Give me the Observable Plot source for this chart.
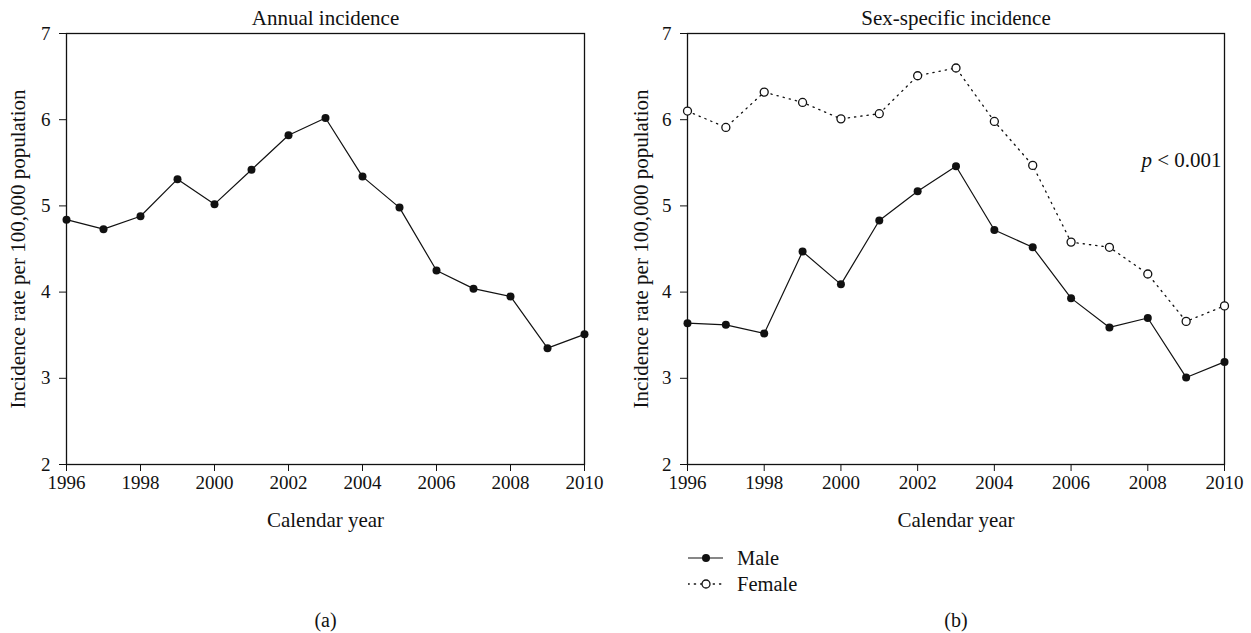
<!DOCTYPE html>
<html>
<head>
<meta charset="utf-8">
<script src="https://cdn.jsdelivr.net/npm/d3@7"></script>
<script src="https://cdn.jsdelivr.net/npm/@observablehq/plot@0.6"></script>
<style>
  html, body { margin: 0; padding: 0; background: #fff; }
  #wrap { position: relative; width: 1251px; height: 633px; overflow: hidden; font-family: "Liberation Serif", "DejaVu Serif", serif; color: #111; }
  #left { position: absolute; left: 0; top: 0; }
  #right { position: absolute; left: 625px; top: 0; }
  .leg { position: absolute; left: 688px; height: 26px; display: flex; align-items: center; font-size: 20.5px; }
  .leg svg { margin-right: 13px; }
</style>
</head>
<body>
<div id="wrap">
  <div id="left"></div>
  <div id="right"></div>
  <div class="leg" style="top:545px"><svg width="36" height="26"><line x1="0" x2="35" y1="13" y2="13" stroke="#111" stroke-width="1.2"/><circle cx="18" cy="13" r="4" fill="#111"/></svg><span>Male</span></div>
  <div class="leg" style="top:571px"><svg width="36" height="26"><line x1="0" x2="35" y1="13" y2="13" stroke="#111" stroke-width="1.3" stroke-dasharray="1.3,5" stroke-linecap="round"/><circle cx="18" cy="13" r="4" fill="#fff" stroke="#111" stroke-width="1.3"/></svg><span>Female</span></div>
</div>
<script>
// ---- data ----
const years = [1996, 1997, 1998, 1999, 2000, 2001, 2002, 2003, 2004, 2005, 2006, 2007, 2008, 2009, 2010];
const annual = [4.84, 4.73, 4.88, 5.31, 5.02, 5.42, 5.82, 6.02, 5.34, 4.98, 4.25, 4.04, 3.95, 3.35, 3.51];
const male   = [3.64, 3.62, 3.52, 4.47, 4.09, 4.83, 5.17, 5.46, 4.72, 4.52, 3.93, 3.59, 3.70, 3.01, 3.19];
const female = [6.10, 5.91, 6.32, 6.20, 6.01, 6.07, 6.51, 6.60, 5.98, 5.47, 4.58, 4.52, 4.21, 3.66, 3.84];
const xTicks = [1996, 1998, 2000, 2002, 2004, 2006, 2008, 2010];
const yTicks = [2, 3, 4, 5, 6, 7];
const titles = ["Annual incidence", "Sex-specific incidence"];
const panelLabels = ["(a)", "(b)"];
const xLabel = "Calendar year";
const yLabel = "Incidence rate per 100,000 population";
const pLabel = "p < 0.001";

const annualData = years.map((y, i) => ({year: y, value: annual[i]}));
const maleData = years.map((y, i) => ({year: y, value: male[i]}));
const femaleData = years.map((y, i) => ({year: y, value: female[i]}));

const FONT = "'Liberation Serif', 'DejaVu Serif', serif";
const INK = "#111";

function common(title, panel, ylabDx) {
  return [
    Plot.frame({stroke: INK, strokeWidth: 1.3}),
    Plot.axisX({ticks: xTicks, tickFormat: d => String(d), tickSize: 7, tickPadding: 4, label: null, fontSize: 19}),
    Plot.axisY({ticks: yTicks, tickFormat: d => String(d), tickSize: 7, tickPadding: 9, label: null, fontSize: 19}),
    Plot.text([title], {frameAnchor: "top", dy: -15, textAnchor: "middle", lineAnchor: "middle", fontSize: 21, fill: INK}),
    Plot.text([xLabel], {frameAnchor: "bottom", dy: 56, textAnchor: "middle", lineAnchor: "middle", fontSize: 21, fill: INK}),
    Plot.text([panel], {frameAnchor: "bottom", dy: 156, textAnchor: "middle", lineAnchor: "middle", fontSize: 20, fill: INK}),
    Plot.text([yLabel], {frameAnchor: "left", dx: ylabDx, rotate: -90, textAnchor: "middle", lineAnchor: "middle", fontSize: 21, fill: INK})
  ];
}

const base = {
  height: 633,
  marginTop: 33,
  marginBottom: 169,
  x: {domain: [1996, 2010]},
  y: {domain: [2, 7]},
  style: {fontFamily: FONT, fontSize: "19px", color: INK, background: "transparent", overflow: "visible"}
};

const left = Plot.plot({
  ...base,
  width: 625,
  marginLeft: 66,
  marginRight: 41,
  marks: [
    ...common(titles[0], panelLabels[0], -48),
    Plot.line(annualData, {x: "year", y: "value", stroke: INK, strokeWidth: 1.2}),
    Plot.dot(annualData, {x: "year", y: "value", r: 4, fill: INK, stroke: "none"})
  ]
});

const right = Plot.plot({
  ...base,
  width: 626,
  marginLeft: 62,
  marginRight: 27,
  marks: [
    ...common(titles[1], panelLabels[1], -46),
    Plot.line(femaleData, {x: "year", y: "value", stroke: INK, strokeWidth: 1.3, strokeDasharray: "1.3,5", strokeLinecap: "round"}),
    Plot.line(maleData, {x: "year", y: "value", stroke: INK, strokeWidth: 1.2}),
    Plot.dot(femaleData, {x: "year", y: "value", r: 4, fill: "#fff", stroke: INK, strokeWidth: 1.3}),
    Plot.dot(maleData, {x: "year", y: "value", r: 4, fill: INK, stroke: "none"}),
    Plot.text([pLabel], {frameAnchor: "top-right", dx: -3, dy: 127, textAnchor: "end", lineAnchor: "middle", fontSize: 21, fill: INK})
  ]
});

d3.select(right).selectAll("text").filter(function() { return this.textContent === pLabel; })
  .html('<tspan font-style="italic">p</tspan> &lt; 0.001');

document.getElementById("left").appendChild(left);
document.getElementById("right").appendChild(right);
</script>
</body>
</html>
